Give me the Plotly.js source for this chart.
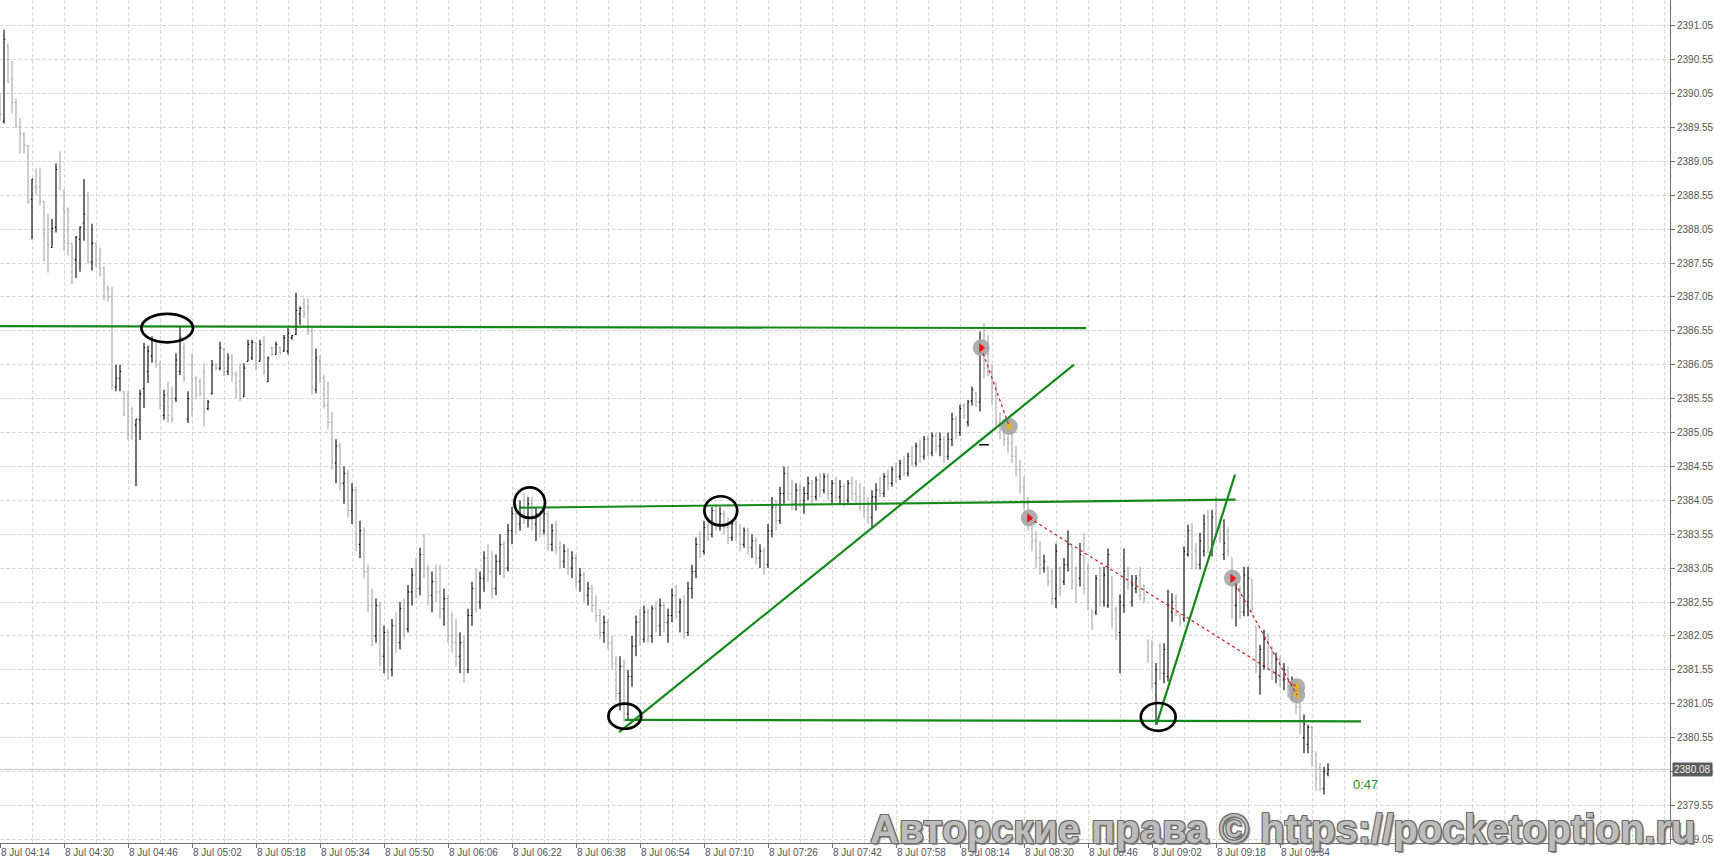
<!DOCTYPE html>
<html><head><meta charset="utf-8">
<script src="https://cdn.plot.ly/plotly-3.0.1.min.js"></script>
<style>html,body{margin:0;padding:0;background:#fff;overflow:hidden}#chart{width:1714px;height:859px}</style>
</head><body><div id="chart"></div>
<script>
// 1-minute bars starting 8 Jul 04:14 (one bar per minute, index = minutes after start)
const sessionStart = Date.UTC(2024, 6, 8, 4, 14);
const opens = [
2389.90,2389.64,2390.75,2390.26,2389.92,2389.56,2389.45,2389.28,2388.49,2388.68,
2388.67,2388.46,2387.83,2387.78,2388.08,2388.98,2388.36,2388.34,2387.84,2387.60,
2387.90,2388.14,2388.21,2387.57,2387.84,2387.60,2387.48,2387.18,2387.05,2385.72,
2385.85,2385.65,2385.60,2385.40,2385.16,2385.24,2385.70,2385.95,2386.18,2386.42,
2386.05,2385.30,2385.62,2385.55,2385.55,2385.95,2386.30,2385.25,2386.05,2385.85,
2385.80,2385.95,2385.40,2385.62,2386.05,2386.00,2386.28,2385.95,2386.18,2385.90,
2385.80,2385.58,2386.10,2386.15,2386.37,2386.10,2386.40,2385.80,2386.30,2386.20,
2386.30,2386.25,2386.25,2386.45,2386.50,2386.80,2386.95,2386.90,2386.55,2385.68,
2386.10,2385.85,2385.45,2385.20,2384.60,2384.85,2384.30,2384.45,2383.90,2384.20,
2383.40,2383.60,2383.00,2382.50,2382.05,2382.50,2381.75,2382.10,2381.55,2382.20,
2381.95,2382.45,2382.15,2382.70,2382.95,2382.75,2383.25,2383.05,2382.65,2382.85,
2382.70,2382.45,2382.60,2382.05,2381.95,2381.75,2381.95,2381.55,2382.35,2382.75,
2382.55,2382.90,2383.20,2383.00,2382.75,2383.15,2383.40,2383.05,2383.60,2383.85,
2383.70,2383.95,2383.80,2384.00,2383.70,2383.85,2383.60,2383.85,2383.40,2383.60,
2383.35,2383.15,2383.30,2383.05,2383.20,2382.85,2382.95,2382.65,2382.75,2382.50,
2382.35,2382.10,2382.25,2381.95,2381.65,2381.20,2381.60,2380.90,2381.45,2381.90,
2382.25,2382.00,2382.40,2382.05,2382.45,2382.20,2382.50,2382.25,2382.35,2382.65,
2382.40,2382.55,2382.10,2382.75,2383.00,2383.40,2383.30,2383.65,2383.55,2383.90,
2383.70,2383.85,2383.65,2383.50,2383.70,2383.55,2383.40,2383.60,2383.35,2383.45,
2383.20,2383.30,2383.10,2383.60,2383.95,2383.75,2384.15,2384.45,2384.15,2384.00,
2384.20,2384.05,2384.15,2384.30,2384.10,2384.35,2384.20,2384.40,2384.15,2384.30,
2384.10,2384.25,2384.05,2384.30,2384.15,2384.10,2384.00,2383.90,2383.80,2384.10,
2384.20,2384.15,2384.40,2384.30,2384.50,2384.40,2384.60,2384.45,2384.70,2384.60,
2384.85,2384.70,2384.95,2384.75,2385.00,2384.85,2384.95,2384.70,2384.95,2385.25,
2385.05,2385.45,2385.20,2385.52,2385.63,2385.50,2386.40,2386.20,2385.95,2385.60,
2385.20,2385.10,2384.95,2384.90,2384.70,2384.50,2384.25,2384.00,2383.75,2383.45,
2383.20,2383.05,2383.07,2383.00,2382.60,2383.05,2382.85,2383.10,2383.37,2383.05,
2382.90,2383.40,2383.05,2382.43,2382.40,2383.05,2382.55,2382.50,2382.90,2382.45,
2382.10,2382.50,2383.05,2382.55,2382.75,2382.95,2382.80,2381.99,2381.90,2381.35,
2381.90,2381.50,2381.45,2382.40,2382.60,2382.35,2382.30,2383.25,2383.60,2383.30,
2383.10,2383.30,2383.80,2383.35,2383.85,2383.75,2383.25,2383.60,2383.20,2382.50,
2382.75,2382.40,2382.55,2382.88,2382.19,2381.45,2381.60,2382.05,2381.65,2381.50,
2381.70,2381.40,2381.55,2381.25,2381.35,2381.00,2380.55,2380.45,2380.70,2380.30,
2380.10,2379.80,2380.02];
const highs = [
2390.05,2390.99,2390.79,2390.53,2389.97,2389.69,2389.48,2389.29,2388.79,2388.95,
2388.95,2388.46,2388.28,2388.20,2389.02,2389.20,2388.64,2388.37,2387.84,2387.95,
2388.09,2388.79,2388.60,2388.13,2387.84,2387.78,2387.50,2387.22,2387.20,2386.05,
2386.05,2385.66,2385.66,2385.43,2385.25,2385.68,2386.37,2386.33,2386.47,2386.42,
2386.10,2385.68,2385.80,2385.73,2386.22,2386.61,2386.37,2385.66,2386.22,2385.88,
2385.85,2386.07,2385.53,2386.12,2386.07,2386.39,2386.30,2386.22,2386.20,2385.95,
2386.07,2386.07,2386.42,2386.42,2386.37,2386.42,2386.47,2386.17,2386.32,2386.39,
2386.32,2386.49,2386.59,2386.49,2387.11,2386.91,2387.03,2387.03,2386.59,2386.29,
2386.19,2385.90,2385.80,2385.35,2384.95,2384.90,2384.55,2384.50,2384.30,2384.25,
2383.75,2383.65,2383.10,2382.75,2382.60,2382.55,2382.20,2382.15,2382.30,2382.40,
2382.55,2382.60,2382.80,2383.05,2383.20,2383.35,2383.55,2383.10,2383.00,2383.10,
2383.10,2382.75,2382.65,2382.40,2382.30,2382.10,2382.05,2382.45,2382.85,2383.05,
2383.00,2383.30,2383.40,2383.30,2383.25,2383.55,2383.45,2383.70,2383.95,2384.00,
2384.05,2384.15,2384.10,2384.10,2383.95,2383.90,2383.95,2383.90,2383.70,2383.75,
2383.45,2383.40,2383.35,2383.30,2383.25,2383.05,2383.00,2382.85,2382.80,2382.65,
2382.45,2382.35,2382.30,2382.05,2381.75,2381.75,2381.70,2381.55,2382.05,2382.35,
2382.45,2382.50,2382.45,2382.50,2382.55,2382.60,2382.55,2382.45,2382.75,2382.80,
2382.60,2382.65,2382.85,2383.10,2383.50,2383.60,2383.75,2383.80,2383.95,2384.00,
2383.95,2383.90,2383.80,2383.75,2383.80,2383.70,2383.65,2383.65,2383.55,2383.50,
2383.40,2383.35,2383.70,2384.10,2384.05,2384.25,2384.55,2384.55,2384.35,2384.30,
2384.30,2384.25,2384.40,2384.35,2384.40,2384.45,2384.45,2384.45,2384.35,2384.40,
2384.35,2384.30,2384.35,2384.40,2384.35,2384.30,2384.25,2384.10,2384.20,2384.30,
2384.40,2384.45,2384.50,2384.55,2384.60,2384.65,2384.70,2384.75,2384.85,2384.90,
2384.95,2385.00,2385.00,2385.05,2385.05,2385.05,2385.00,2385.05,2385.34,2385.29,
2385.46,2385.48,2385.53,2385.73,2385.65,2386.54,2386.66,2386.49,2386.05,2385.80,
2385.35,2385.25,2385.15,2385.05,2384.85,2384.65,2384.40,2384.10,2383.85,2383.60,
2383.45,2383.25,2383.07,2383.03,2383.41,2383.07,2383.20,2383.61,2383.37,2383.07,
2383.42,2383.57,2383.12,2382.43,2382.95,2383.07,2383.07,2383.34,2382.93,2382.48,
2382.66,2383.34,2383.07,2382.95,2382.95,2383.07,2382.80,2381.99,2381.99,2381.65,
2381.94,2381.94,2382.73,2382.68,2382.66,2382.39,2383.37,2383.69,2383.71,2383.42,
2383.57,2383.84,2383.91,2383.91,2384.11,2383.79,2383.77,2383.66,2383.20,2382.88,
2382.80,2383.07,2383.07,2382.88,2382.19,2381.92,2382.14,2382.09,2381.90,2381.80,
2381.75,2381.65,2381.60,2381.45,2381.40,2381.10,2380.89,2380.74,2380.72,2380.35,
2380.17,2380.12,2380.17];
const lows = [
2389.65,2389.61,2390.21,2389.76,2389.55,2389.17,2389.17,2388.43,2387.90,2388.55,
2388.40,2387.57,2387.41,2387.78,2388.00,2388.63,2387.73,2387.66,2387.24,2387.33,
2387.42,2387.88,2387.55,2387.44,2387.49,2387.35,2387.00,2386.98,2385.68,2385.66,
2385.66,2385.29,2384.94,2384.94,2384.26,2384.94,2385.41,2385.78,2386.08,2386.00,
2385.40,2385.24,2385.19,2385.19,2385.50,2385.90,2385.80,2385.19,2385.29,2385.54,
2385.58,2385.14,2385.38,2385.61,2385.97,2385.97,2385.88,2385.90,2385.80,2385.55,
2385.51,2385.58,2386.10,2386.12,2385.97,2386.10,2385.90,2385.80,2386.17,2386.20,
2386.20,2386.24,2386.20,2386.42,2386.49,2386.64,2386.74,2386.49,2385.61,2385.63,
2385.78,2385.40,2385.10,2384.50,2384.30,2384.20,2384.00,2383.80,2383.70,2383.30,
2383.20,2382.90,2382.40,2381.90,2381.95,2381.60,2381.50,2381.40,2381.45,2381.80,
2381.85,2382.00,2382.10,2382.50,2382.60,2382.65,2382.90,2382.50,2382.40,2382.55,
2382.30,2382.20,2381.95,2381.80,2381.60,2381.50,2381.36,2381.50,2382.20,2382.40,
2382.45,2382.70,2382.85,2382.60,2382.65,2382.95,2382.90,2383.00,2383.40,2383.55,
2383.60,2383.70,2383.65,2383.60,2383.45,2383.50,2383.55,2383.30,2383.30,2383.25,
2383.05,2383.05,2382.95,2382.90,2382.75,2382.70,2382.55,2382.50,2382.40,2382.25,
2382.00,2381.95,2381.85,2381.55,2381.10,2380.95,2380.78,2380.80,2381.30,2381.75,
2381.90,2381.95,2381.95,2381.95,2382.10,2382.05,2382.10,2381.95,2382.25,2382.30,
2382.10,2382.00,2382.05,2382.60,2382.90,2383.20,2383.25,2383.45,2383.50,2383.60,
2383.60,2383.55,2383.40,2383.45,2383.45,2383.30,2383.35,2383.25,2383.20,2383.10,
2383.05,2382.95,2383.05,2383.50,2383.60,2383.70,2384.00,2384.05,2383.90,2383.90,
2383.95,2383.85,2384.05,2384.00,2384.05,2384.10,2384.15,2384.05,2384.00,2384.05,
2384.00,2383.95,2384.00,2384.05,2384.00,2383.90,2383.80,2383.70,2383.65,2383.90,
2384.10,2384.10,2384.20,2384.25,2384.30,2384.35,2384.40,2384.40,2384.55,2384.55,
2384.60,2384.65,2384.70,2384.70,2384.75,2384.70,2384.60,2384.65,2384.85,2384.95,
2385.00,2385.25,2385.14,2385.45,2385.43,2385.36,2385.85,2385.88,2385.46,2385.14,
2384.95,2384.85,2384.75,2384.60,2384.40,2384.15,2383.90,2383.60,2383.30,2383.05,
2382.95,2382.98,2382.78,2382.51,2382.46,2382.63,2382.80,2383.00,2382.73,2382.53,
2382.78,2382.66,2382.43,2382.14,2382.36,2382.48,2382.48,2382.46,2382.16,2381.99,
2381.50,2382.39,2382.73,2382.48,2382.68,2382.58,2382.53,2381.65,2381.26,2380.74,
2381.40,2381.35,2381.38,2382.26,2382.34,2382.19,2382.26,2383.22,2383.03,2383.03,
2383.03,2383.22,2383.27,2383.22,2383.50,2383.42,2383.17,2383.22,2382.29,2382.19,
2382.30,2382.34,2382.34,2382.39,2381.50,2381.18,2381.55,2381.55,2381.40,2381.35,
2381.30,2381.25,2381.15,2381.10,2380.90,2380.60,2380.32,2380.32,2380.12,2379.76,
2379.76,2379.71,2379.98];
const closes = [
2389.74,2390.85,2390.22,2389.92,2389.56,2389.46,2389.29,2388.46,2388.79,2388.65,
2388.46,2387.98,2387.81,2388.06,2388.93,2388.65,2388.30,2387.84,2387.62,2387.93,
2388.08,2388.27,2387.56,2387.84,2387.59,2387.48,2387.25,2387.05,2385.75,2385.85,
2385.95,2385.32,2385.02,2385.05,2385.25,2385.62,2386.30,2386.25,2386.42,2386.10,
2385.45,2385.60,2385.30,2385.25,2386.12,2386.45,2385.85,2385.55,2385.40,2385.60,
2385.62,2385.35,2385.50,2386.05,2386.00,2386.30,2385.95,2386.15,2385.92,2385.65,
2385.55,2386.00,2386.35,2386.38,2386.05,2386.35,2385.95,2386.15,2386.20,2386.35,
2386.22,2386.45,2386.52,2386.48,2386.85,2386.88,2386.80,2386.55,2385.72,2386.15,
2385.85,2385.45,2385.20,2384.60,2384.85,2384.30,2384.45,2383.90,2384.20,2383.40,
2383.60,2383.00,2382.50,2382.05,2382.50,2381.75,2382.10,2381.55,2382.20,2381.95,
2382.45,2382.15,2382.70,2382.95,2382.75,2383.25,2383.05,2382.65,2382.85,2382.70,
2382.45,2382.60,2382.05,2381.95,2381.75,2381.95,2381.55,2382.35,2382.75,2382.55,
2382.90,2383.20,2383.00,2382.75,2383.15,2383.40,2383.05,2383.60,2383.85,2383.70,
2383.95,2383.80,2384.00,2383.70,2383.85,2383.60,2383.85,2383.40,2383.60,2383.35,
2383.15,2383.30,2383.05,2383.20,2382.85,2382.95,2382.65,2382.75,2382.50,2382.35,
2382.10,2382.25,2381.95,2381.65,2381.20,2381.60,2380.90,2381.45,2381.90,2382.25,
2382.00,2382.40,2382.05,2382.45,2382.20,2382.50,2382.25,2382.35,2382.65,2382.40,
2382.55,2382.10,2382.75,2383.00,2383.40,2383.30,2383.65,2383.55,2383.90,2383.70,
2383.85,2383.65,2383.50,2383.70,2383.55,2383.40,2383.60,2383.35,2383.45,2383.20,
2383.30,2383.10,2383.60,2383.95,2383.75,2384.15,2384.45,2384.15,2384.00,2384.20,
2384.05,2384.15,2384.30,2384.10,2384.35,2384.20,2384.40,2384.15,2384.30,2384.10,
2384.25,2384.05,2384.30,2384.15,2384.10,2384.00,2383.90,2383.80,2384.10,2384.20,
2384.15,2384.40,2384.30,2384.50,2384.40,2384.60,2384.45,2384.70,2384.60,2384.85,
2384.70,2384.95,2384.75,2385.00,2384.85,2384.95,2384.70,2384.95,2385.25,2385.05,
2385.40,2385.30,2385.50,2385.68,2385.50,2386.35,2386.00,2385.95,2385.55,2385.20,
2385.10,2384.95,2384.90,2384.70,2384.50,2384.25,2384.00,2383.75,2383.45,2383.20,
2383.10,2383.15,2382.85,2382.60,2383.30,2382.75,2383.10,2383.40,2382.85,2382.80,
2383.25,2382.75,2382.55,2382.20,2382.90,2382.70,2382.95,2383.25,2382.30,2382.05,
2382.55,2383.00,2382.80,2382.80,2382.90,2382.65,2382.60,2381.75,2381.35,2381.55,
2381.50,2381.85,2382.50,2382.55,2382.40,2382.25,2383.30,2383.60,2383.20,2383.10,
2383.45,2383.70,2383.35,2383.80,2383.60,2383.50,2383.42,2383.30,2382.55,2382.75,
2382.40,2382.95,2382.90,2382.45,2381.60,2381.85,2382.00,2381.65,2381.50,2381.70,
2381.40,2381.55,2381.25,2381.35,2381.00,2380.70,2380.75,2380.70,2380.35,2379.95,
2379.80,2380.05,2380.08];

// Drawn objects (minutes after session start, price)
const ellipseStartMin = [35.35, 128.6, 176.1, 152.1, 285.2];
const ellipseEndMin   = [48.25, 136.25, 184.3, 160.3, 293.9];
const ellipseLowPx    = [2386.38, 2383.79, 2383.68, 2380.68, 2380.65];
const ellipseHighPx   = [2386.80, 2384.24, 2384.11, 2381.05, 2381.06];

const trendStartMin = [-5, 129.7, 154.8, 156.2, 289.1];
const trendStartPx  = [2386.62, 2383.94, 2380.63, 2380.81, 2380.74];
const trendEndMin   = [271.5, 308.9, 268.5, 340.3, 308.75];
const trendEndPx    = [2386.59, 2384.06, 2386.05, 2380.79, 2384.43];

const tradeOpenMin  = [245.3, 257.3, 308.1];
const tradeOpenPx   = [2386.30, 2383.79, 2382.90];
const tradeCloseMin = [252.3, 324.2, 324.2];
const tradeClosePx  = [2385.14, 2381.30, 2381.18];
const levelDashMin  = [246];
const levelDashPx   = [2384.87];

const labelStepMin = 16;   // time label every 16 bars
const gridStepMin = 8;     // vertical grid every 8 bars
const timerText = '0:47';
const watermarkText = 'Авторские права © https://pocketoption.ru';

function tm(m) {
  return new Date(sessionStart + m * 60000).toISOString().slice(0, 23).replace('T', ' ');
}
const times = opens.map((_, i) => tm(i));
const lastPrice = closes[closes.length - 1];
const labelTimes = times.filter((_, i) => i % labelStepMin === 0);

const axisFont = {family: 'Liberation Sans, Arial, sans-serif', size: 10, color: '#555555'};
const gridCol = '#d9d9d9';

const traces = [
  {
    type: 'ohlc', x: times, open: opens, high: highs, low: lows, close: closes,
    increasing: {line: {color: '#000000', width: 1.1}},
    decreasing: {line: {color: '#a6a6a6', width: 1.1}},
    tickwidth: 0.3, hoverinfo: 'none', showlegend: false
  },
  {
    type: 'scatter', mode: 'markers', hoverinfo: 'none', showlegend: false,
    x: levelDashMin.map(tm), y: levelDashPx,
    marker: {symbol: 'line-ew', size: 7, line: {color: '#000000', width: 1.5}}
  },
  {
    type: 'scatter', mode: 'markers', hoverinfo: 'none', showlegend: false,
    x: tradeOpenMin.concat(tradeCloseMin).map(tm), y: tradeOpenPx.concat(tradeClosePx),
    marker: {size: 17, color: 'rgba(165,165,165,0.9)', line: {width: 0}}
  },
  {
    type: 'scatter', mode: 'markers', hoverinfo: 'none', showlegend: false,
    x: tradeOpenMin.map(tm), y: tradeOpenPx,
    marker: {symbol: 'triangle-right', size: 8, color: '#ff1010', line: {width: 0}}
  },
  {
    type: 'scatter', mode: 'markers', hoverinfo: 'none', showlegend: false,
    x: tradeCloseMin.map(tm), y: tradeClosePx,
    marker: {symbol: 'triangle-left', size: 8, color: '#e6b422', line: {width: 0}}
  }
];

const shapes = [];
shapes.push({type: 'line', xref: 'paper', yref: 'y', x0: 0, x1: 1, y0: lastPrice, y1: lastPrice,
  line: {color: '#c8c8c8', width: 1}, layer: 'below'});
for (let i = 0; i < tradeOpenMin.length; i++) {
  shapes.push({type: 'line', xref: 'x', yref: 'y', x0: tm(tradeOpenMin[i]), y0: tradeOpenPx[i],
    x1: tm(tradeCloseMin[i]), y1: tradeClosePx[i], line: {color: '#c41e1e', width: 1.2, dash: 'dot'}});
}
for (let i = 0; i < trendStartMin.length; i++) {
  shapes.push({type: 'line', xref: 'x', yref: 'y', x0: tm(trendStartMin[i]), y0: trendStartPx[i],
    x1: tm(trendEndMin[i]), y1: trendEndPx[i], line: {color: '#13891a', width: 2.2}});
}
for (let i = 0; i < ellipseStartMin.length; i++) {
  shapes.push({type: 'circle', xref: 'x', yref: 'y', x0: tm(ellipseStartMin[i]), x1: tm(ellipseEndMin[i]),
    y0: ellipseLowPx[i], y1: ellipseHighPx[i], line: {color: '#000000', width: 2.7}});
}

const annotations = [
  {xref: 'paper', yref: 'paper', x: 1282 / 1670, y: (843 - 829) / 843, xanchor: 'center', yanchor: 'middle',
   text: watermarkText, showarrow: false,
   font: {family: 'Liberation Sans, Arial, sans-serif', size: 40, weight: 700, color: '#bcbcbc',
          shadow: '-1px -1px 0 #6a6a6a, 1px -1px 0 #6a6a6a, -1px 1px 0 #6a6a6a, 1px 1px 0 #6a6a6a, 2px 2px 1px #8a8a8a'}},
  {xref: 'paper', yref: 'paper', x: 1365 / 1670, y: (843 - 784) / 843, xanchor: 'center', yanchor: 'middle',
   text: timerText, showarrow: false, font: {family: 'Liberation Sans, Arial, sans-serif', size: 13, color: '#1f8f1f'}},
  {xref: 'paper', yref: 'y', x: 1, y: lastPrice, xanchor: 'left', yanchor: 'middle', xshift: 2,
   text: lastPrice.toFixed(2), showarrow: false, bgcolor: '#5c5c5c', borderpad: 1,
   font: {family: 'Liberation Sans, Arial, sans-serif', size: 10, color: '#f2f2f2'}}
];

const layout = {
  width: 1714, height: 859,
  margin: {l: 0, r: 44, t: 0, b: 16, pad: 0},
  paper_bgcolor: '#ffffff', plot_bgcolor: '#ffffff',
  showlegend: false, dragmode: false, hovermode: false,
  xaxis: {
    type: 'date', range: [tm(0), tm(417.5)], rangeslider: {visible: false},
    tickmode: 'array', tickvals: labelTimes, tickformat: '%-d %b %H:%M',
    ticks: 'outside', ticklen: 4, tickcolor: '#707070', tickfont: axisFont,
    ticklabelposition: 'outside right',
    showgrid: true, gridcolor: gridCol, griddash: '4px,2px', gridwidth: 1,
    minor: {tickmode: 'linear', tick0: tm(0), dtick: gridStepMin * 60000, showgrid: true,
            gridcolor: gridCol, griddash: '4px,2px', ticks: ''},
    showline: true, linecolor: '#6e6e6e', linewidth: 1, zeroline: false, fixedrange: true
  },
  yaxis: {
    side: 'right', range: [2378.995, 2391.43], tick0: 2379.05, dtick: 0.5, tickformat: '.2f',
    ticks: 'outside', ticklen: 4, tickcolor: '#707070', tickfont: axisFont,
    showgrid: true, gridcolor: gridCol, griddash: '4px,2px', gridwidth: 1,
    showline: true, linecolor: '#6e6e6e', linewidth: 1, zeroline: false, fixedrange: true
  },
  shapes: shapes,
  annotations: annotations
};

Plotly.newPlot('chart', traces, layout, {displayModeBar: false, staticPlot: true});
</script>
</body></html>
